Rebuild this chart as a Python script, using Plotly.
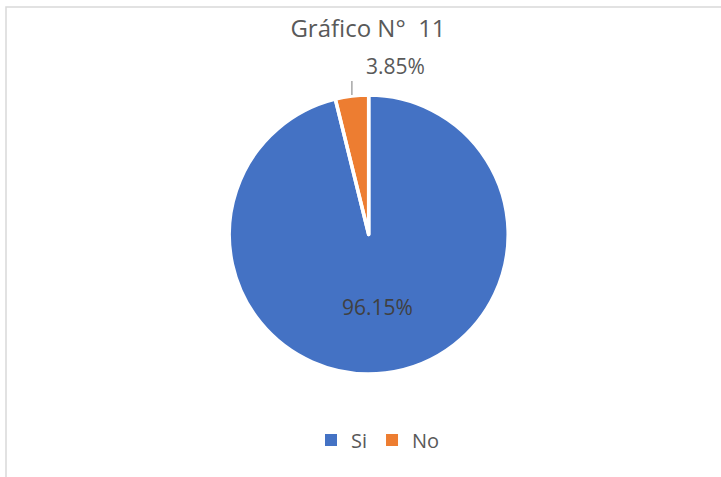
import math
import plotly.graph_objects as go

# Survey answers
categories = ["Si", "No"]
counts = [25, 1]
colors = ["#4472C4", "#ED7D31"]

title_text = "Gráfico N°  11"

W, H = 721, 477
# Pie geometry in pixels (centre and radius of the drawn disc)
CX, CY, R = 368.7, 234.5, 139.5


def px_x(x):
    return x / W


def px_y(y):
    return 1 - y / H


total = sum(counts)
shares = [c / total for c in counts]

# Mid-angle of each slice, clockwise from 12 o'clock (radians)
mids = []
acc = 0.0
for s in shares:
    mids.append((acc + s / 2) * 2 * math.pi)
    acc += s

pie_domain = dict(x=[px_x(CX - R), px_x(CX + R)], y=[px_y(CY + R), px_y(CY - R)])

fig = go.Figure()
# Filled slices (these feed the legend)
fig.add_trace(
    go.Pie(
        labels=categories,
        values=counts,
        marker=dict(colors=colors, line=dict(width=0)),
        sort=False,
        direction="clockwise",
        rotation=0,
        textinfo="none",
        hoverinfo="label+percent",
        domain=pie_domain,
    )
)
# White separators between slices
fig.add_trace(
    go.Pie(
        labels=categories,
        values=counts,
        marker=dict(colors=["rgba(0,0,0,0)"] * len(counts), line=dict(color="white", width=3.5)),
        sort=False,
        direction="clockwise",
        rotation=0,
        textinfo="none",
        hoverinfo="skip",
        showlegend=False,
        domain=pie_domain,
    )
)

annotations = []
shapes = []

# Large slice: label inside, about half-way out along its bisector
a = mids[0]
annotations.append(
    dict(
        x=px_x(CX + 0.52 * R * math.sin(a)),
        y=px_y(CY - 0.52 * R * math.cos(a)),
        xref="paper", yref="paper",
        text=f"{shares[0] * 100:.2f}%",
        showarrow=False,
        font=dict(family="Open Sans", size=21, color="#404040"),
        xanchor="center", yanchor="middle",
    )
)

# Small slice: label outside with a short leader line
a = mids[1]
lx = CX + R * math.sin(a)
ly0 = CY - (R + 1) * math.cos(a)
ly1 = ly0 - 14
shapes.append(
    dict(
        type="line", xref="paper", yref="paper",
        x0=px_x(lx), x1=px_x(lx), y0=px_y(ly0), y1=px_y(ly1),
        line=dict(color="#A6A6A6", width=1.5),
    )
)
annotations.append(
    dict(
        x=px_x(lx + 12), y=px_y(ly1 - 15),
        xref="paper", yref="paper",
        text=f"{shares[1] * 100:.2f}%",
        showarrow=False,
        font=dict(family="Open Sans", size=21, color="#595959"),
        xanchor="left", yanchor="middle",
    )
)

# Chart-area border
shapes.append(
    dict(
        type="rect", xref="paper", yref="paper",
        x0=px_x(6), x1=1.02, y0=-0.02, y1=px_y(7),
        line=dict(color="#D9D9D9", width=1.5),
        fillcolor="rgba(0,0,0,0)",
    )
)

fig.update_layout(
    width=W,
    height=H,
    margin=dict(l=0, r=0, t=0, b=0),
    paper_bgcolor="white",
    plot_bgcolor="white",
    title=dict(
        text=title_text,
        x=px_x(368), y=px_y(29),
        xanchor="center", yanchor="middle",
        font=dict(family="Open Sans", size=24, color="#595959"),
    ),
    showlegend=True,
    legend=dict(
        orientation="h",
        x=px_x(378), y=px_y(440),
        xanchor="center", yanchor="middle",
        font=dict(family="Open Sans", size=20, color="#595959"),
        traceorder="normal",
    ),
    annotations=annotations,
    shapes=shapes,
)

fig.write_html("out.html")
